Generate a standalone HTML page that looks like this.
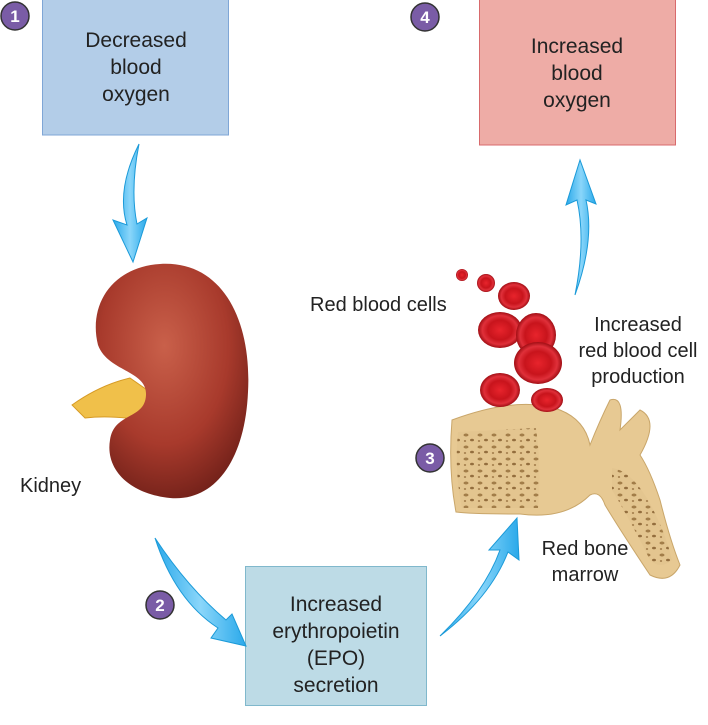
<!DOCTYPE html>
<html><head><meta charset="utf-8"><style>
body{margin:0;background:#fff;width:708px;height:720px;overflow:hidden;font-family:"Liberation Sans",sans-serif;}
</style></head><body>
<svg width="708" height="720" viewBox="0 0 708 720" xmlns="http://www.w3.org/2000/svg" font-family="Liberation Sans, sans-serif">
<defs>
<radialGradient id="kid" cx="0.45" cy="0.35" r="0.7"><stop offset="0" stop-color="#c9604a"/><stop offset="0.6" stop-color="#a83a2c"/><stop offset="1" stop-color="#6e1f18"/></radialGradient>
<radialGradient id="rbc" cx="0.5" cy="0.5" r="0.5"><stop offset="0" stop-color="#e8242c"/><stop offset="0.55" stop-color="#c8141c"/><stop offset="0.8" stop-color="#e0303a"/><stop offset="1" stop-color="#a00e14"/></radialGradient>
<linearGradient id="arr" x1="0" y1="0" x2="1" y2="0"><stop offset="0" stop-color="#2aa9ea"/><stop offset="0.5" stop-color="#8ad6fa"/><stop offset="1" stop-color="#2aa9ea"/></linearGradient>
<pattern id="spong" width="14" height="12" patternUnits="userSpaceOnUse"><rect width="14" height="12" fill="#e3c48f"/><ellipse cx="4" cy="3" rx="2.5" ry="1.5" fill="#9a7440"/><ellipse cx="10" cy="8" rx="2" ry="1.3" fill="#8a6434"/><ellipse cx="3" cy="9" rx="1.2" ry="1" fill="#a07a48"/></pattern>
</defs>
<rect x="42.5" y="-1" width="186" height="136" fill="#b3cde8" stroke="#7fa6d6"/>
<text font-size="21" fill="#222" text-anchor="middle"><tspan x="136" y="47">Decreased</tspan><tspan x="136" y="74">blood</tspan><tspan x="136" y="101">oxygen</tspan></text>
<rect x="479.5" y="-1" width="196" height="146" fill="#eeaca6" stroke="#d86a6c"/>
<text font-size="21" fill="#222" text-anchor="middle"><tspan x="577" y="53">Increased</tspan><tspan x="577" y="80">blood</tspan><tspan x="577" y="107">oxygen</tspan></text>
<rect x="245.5" y="566.5" width="181" height="139" fill="#bddbe6" stroke="#80b8cc"/>
<text font-size="21" fill="#222" text-anchor="middle"><tspan x="336" y="611">Increased</tspan><tspan x="336" y="638">erythropoietin</tspan><tspan x="336" y="665">(EPO)</tspan><tspan x="336" y="692">secretion</tspan></text>
<path d="M139 144 Q116 190 127 225 L113 220 L133 262 L147 218 L137 224 Q130 190 139 144Z" fill="url(#arr)" stroke="#1b9ad8" stroke-width="1"/>
<path d="M155 538 Q175 600 218 628 L211 638 L246 646 L232 614 L226 620 Q188 588 155 538Z" fill="url(#arr)" stroke="#1b9ad8" stroke-width="1"/>
<path d="M440 636 Q485 592 500 550 L489 550 L517 518 L519 560 L508 552 Q490 598 440 636Z" fill="url(#arr)" stroke="#1b9ad8" stroke-width="1"/>
<path d="M575 295 Q595 240 586 200 L596 204 L580 160 L566 205 L577 200 Q586 240 575 295Z" fill="url(#arr)" stroke="#1b9ad8" stroke-width="1"/>
<path d="M72 405 Q100 385 130 378 L150 392 L140 420 Q110 415 85 418 Z" fill="#f0c04a" stroke="#d69a24"/>
<path d="M160 264 C222 260 252 320 248 392 C245 460 215 502 170 498 C130 494 105 470 110 440 C114 412 145 420 146 395 C147 370 108 372 98 345 C88 305 112 267 160 264Z" fill="url(#kid)"/>
<path d="M452 420 Q520 395 560 410 Q585 420 590 445 Q600 420 610 400 Q625 395 620 430 L640 410 Q660 420 640 455 Q650 470 660 500 Q670 540 680 565 Q670 585 650 575 Q620 530 605 505 Q600 490 590 495 Q565 520 520 514 Q470 514 456 512 Q448 470 452 420Z" fill="#e7c993" stroke="#c9a66a"/>
<path d="M458 432 L536 428 Q542 470 538 508 L462 508 Q454 470 458 432Z" fill="url(#spong)" opacity="0.9"/>
<path d="M612 468 Q630 470 648 500 Q665 530 672 560 Q660 570 650 560 Q630 520 612 490Z" fill="url(#spong)" opacity="0.9"/>
<circle cx="462" cy="275" r="6" fill="url(#rbc)"/>
<circle cx="486" cy="283" r="9" fill="url(#rbc)"/>
<ellipse cx="514" cy="296" rx="16" ry="14" fill="url(#rbc)"/>
<ellipse cx="500" cy="330" rx="22" ry="18" fill="url(#rbc)"/>
<ellipse cx="536" cy="335" rx="20" ry="22" fill="url(#rbc)"/>
<ellipse cx="538" cy="363" rx="24" ry="21" fill="url(#rbc)"/>
<ellipse cx="500" cy="390" rx="20" ry="17" fill="url(#rbc)"/>
<ellipse cx="547" cy="400" rx="16" ry="12" fill="url(#rbc)"/>
<text font-size="20" fill="#222"><tspan x="20" y="492">Kidney</tspan><tspan x="310" y="311">Red blood cells</tspan></text>
<text font-size="20" fill="#222" text-anchor="middle"><tspan x="638" y="331">Increased</tspan><tspan x="638" y="357">red blood cell</tspan><tspan x="638" y="383">production</tspan><tspan x="585" y="555">Red bone</tspan><tspan x="585" y="581">marrow</tspan></text>
<g font-size="17" font-weight="bold" fill="#fff" text-anchor="middle">
<circle cx="15" cy="16" r="14" fill="#7a5ca6" stroke="#333" stroke-width="1.5"/><text x="15" y="22">1</text>
<circle cx="425" cy="17" r="14" fill="#7a5ca6" stroke="#333" stroke-width="1.5"/><text x="425" y="23">4</text>
<circle cx="160" cy="605" r="14" fill="#7a5ca6" stroke="#333" stroke-width="1.5"/><text x="160" y="611">2</text>
<circle cx="430" cy="458" r="14" fill="#7a5ca6" stroke="#333" stroke-width="1.5"/><text x="430" y="464">3</text>
</g>
</svg>
</body></html>
